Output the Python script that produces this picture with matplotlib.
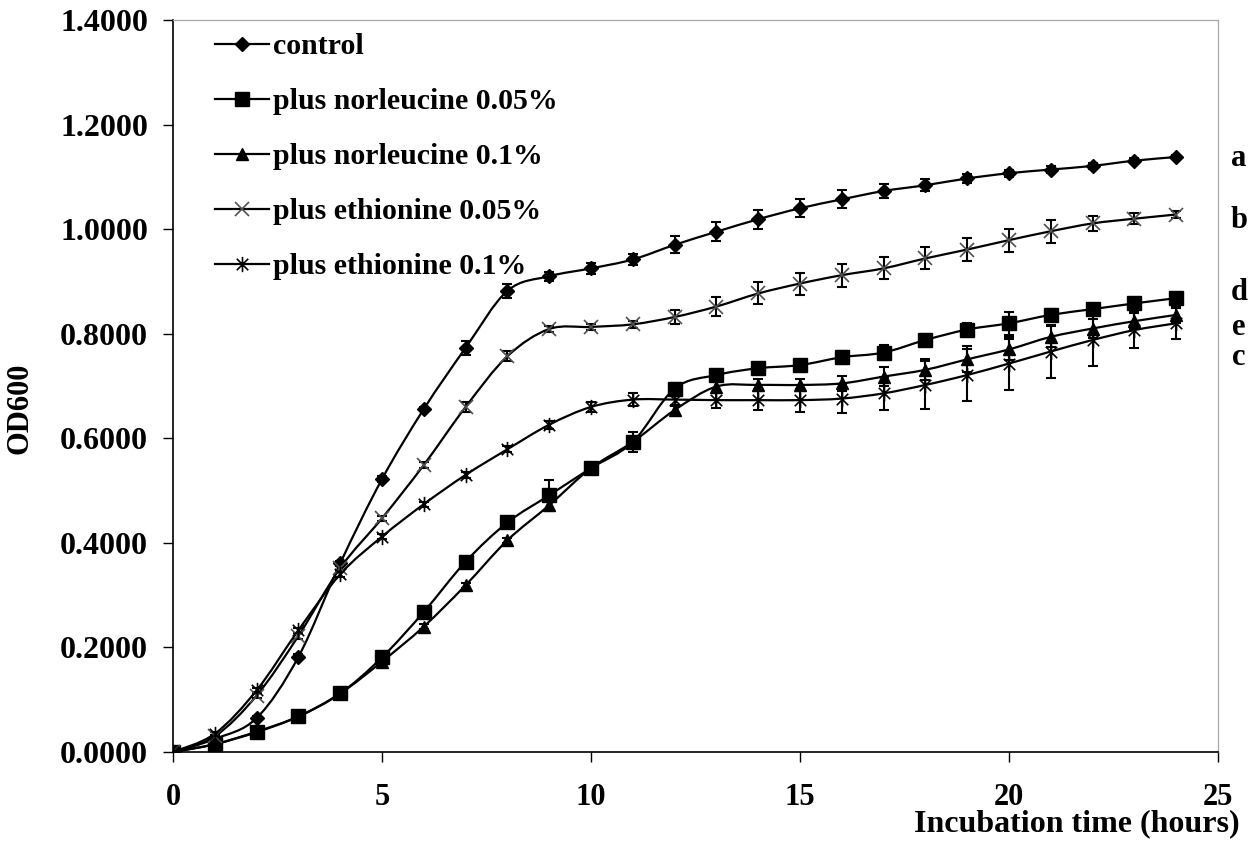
import matplotlib
matplotlib.use("Agg")
import matplotlib.pyplot as plt
from matplotlib.path import Path
from matplotlib.patches import PathPatch
from matplotlib.lines import Line2D
from matplotlib.ticker import FormatStrFormatter

# incubation time (hours) and OD600 readings, mean and error
hours = list(range(25))

control = [0, 0.025, 0.065, 0.182, 0.361, 0.522, 0.656, 0.773, 0.882, 0.910,
           0.925, 0.942, 0.970, 0.995, 1.019, 1.040, 1.057, 1.073, 1.084, 1.097,
           1.107, 1.114, 1.121, 1.131, 1.138]
control_err = [0, 0.003, 0.004, 0.005, 0.005, 0.005, 0.004, 0.014, 0.013, 0.009,
               0.010, 0.010, 0.016, 0.018, 0.018, 0.017, 0.017, 0.014, 0.011, 0.009,
               0.007, 0.006, 0.005, 0.005, 0.004]

nor_005 = [0, 0.015, 0.039, 0.068, 0.112, 0.181, 0.268, 0.364, 0.439, 0.491,
           0.543, 0.593, 0.695, 0.721, 0.734, 0.740, 0.755, 0.764, 0.788, 0.808,
           0.820, 0.836, 0.847, 0.858, 0.868]
nor_005_err = [0, 0, 0, 0, 0.003, 0.004, 0.004, 0.005, 0.005, 0.030,
               0.010, 0.020, 0.010, 0.010, 0.010, 0.010, 0.012, 0.015, 0.012, 0.012,
               0.022, 0.012, 0.010, 0.008, 0.006]

nor_01 = [0, 0.015, 0.038, 0.068, 0.112, 0.173, 0.240, 0.319, 0.405, 0.472,
          0.543, 0.593, 0.654, 0.699, 0.702, 0.702, 0.705, 0.718, 0.731, 0.751,
          0.770, 0.794, 0.810, 0.824, 0.836]
nor_01_err = [0, 0, 0, 0, 0.003, 0.004, 0.004, 0.005, 0.005, 0.010,
              0.008, 0.010, 0.008, 0.010, 0.012, 0.012, 0.015, 0.018, 0.020, 0.025,
              0.020, 0.020, 0.018, 0.015, 0.015]

eth_005 = [0, 0.030, 0.108, 0.222, 0.352, 0.447, 0.549, 0.660, 0.757, 0.809,
           0.813, 0.818, 0.832, 0.852, 0.877, 0.896, 0.912, 0.925, 0.944, 0.961,
           0.979, 0.996, 1.011, 1.020, 1.028]
eth_005_err = [0, 0.003, 0.004, 0.005, 0.005, 0.005, 0.005, 0.010, 0.010, 0.006,
               0.006, 0.007, 0.013, 0.019, 0.021, 0.021, 0.022, 0.021, 0.021, 0.022,
               0.022, 0.022, 0.015, 0.010, 0.006]

eth_01 = [0, 0.035, 0.118, 0.233, 0.340, 0.412, 0.474, 0.530, 0.579, 0.626,
          0.660, 0.674, 0.674, 0.673, 0.673, 0.673, 0.676, 0.686, 0.702, 0.721,
          0.743, 0.766, 0.788, 0.807, 0.820]
eth_01_err = [0, 0.003, 0.004, 0.005, 0.005, 0.005, 0.005, 0.006, 0.006, 0.008,
              0.010, 0.012, 0.010, 0.015, 0.019, 0.022, 0.027, 0.032, 0.045, 0.050,
              0.050, 0.050, 0.050, 0.035, 0.030]

labels = ["control", "plus norleucine 0.05%", "plus norleucine 0.1%",
          "plus ethionine 0.05%", "plus ethionine 0.1%"]

# significance letters next to the last points
letters = ["a", "b", "d", "e", "c"]
letter_y = [1.136, 1.016, 0.878, 0.811, 0.755]

# asterisk marker: an x with a vertical bar through it
star = Path([(0, -1), (0, 1), (-0.75, -0.75), (0.75, 0.75), (-0.75, 0.75), (0.75, -0.75)],
            [Path.MOVETO, Path.LINETO, Path.MOVETO, Path.LINETO, Path.MOVETO, Path.LINETO])

styles = [
    dict(marker="D", ms=7.5, mfc="black", mec="black", mew=1),
    dict(marker="s", ms=10.5, mfc="black", mec="black", mew=1),
    dict(marker="^", ms=9, mfc="black", mec="black", mew=1),
    dict(marker="x", ms=10, mfc="none", mec="#505050", mew=1.2),
    dict(marker=star, ms=11, mfc="none", mec="black", mew=1.2),
]


def smooth_path(x, y):
    # bezier segments through every point, like a spreadsheet "smoothed line"
    n = len(x)
    verts = [(x[0], y[0])]
    codes = [Path.MOVETO]
    for i in range(n - 1):
        xa, ya = (x[i - 1], y[i - 1]) if i > 0 else (x[i], y[i])
        xb, yb = (x[i + 2], y[i + 2]) if i + 2 < n else (x[i + 1], y[i + 1])
        c1 = (x[i] + (x[i + 1] - xa) / 6.0, y[i] + (y[i + 1] - ya) / 6.0)
        c2 = (x[i + 1] - (xb - x[i]) / 6.0, y[i + 1] - (yb - y[i]) / 6.0)
        verts += [c1, c2, (x[i + 1], y[i + 1])]
        codes += [Path.CURVE4] * 3
    return Path(verts, codes)


plt.rcParams["font.family"] = ["Liberation Serif", "DejaVu Serif"]
plt.rcParams["font.weight"] = "bold"

fig = plt.figure(figsize=(12.52, 8.41), dpi=100)
ax = fig.add_axes([0.1382, 0.1058, 0.8346, 0.8704])

series = [(control, control_err), (nor_005, nor_005_err), (nor_01, nor_01_err),
          (eth_005, eth_005_err), (eth_01, eth_01_err)]

handles = []
for (vals, errs), st, lab in zip(series, styles, labels):
    ax.add_patch(PathPatch(smooth_path(hours, vals), facecolor="none",
                           edgecolor="black", lw=1.6, zorder=2))
    ax.errorbar(hours, vals, yerr=errs, fmt="none", ecolor="black",
                elinewidth=1.5, capsize=3.6, capthick=1.5, zorder=3)
    ax.plot(hours, vals, linestyle="none", zorder=4, **st)
    handles.append(Line2D([], [], color="black", lw=1.6, **st))

for lt, ly in zip(letters, letter_y):
    ax.text(25.5, ly, lt, ha="center", va="center", fontsize=22,
            fontweight="bold", clip_on=False)

ax.set_xlim(0, 25)
ax.set_ylim(0, 1.4)
ax.set_xticks([0, 5, 10, 15, 20, 25])
ax.set_yticks([0, 0.2, 0.4, 0.6, 0.8, 1.0, 1.2, 1.4])
ax.yaxis.set_major_formatter(FormatStrFormatter("%.4f"))
ax.tick_params(axis="y", direction="out", length=7, width=1, pad=11, labelsize=23)
ax.tick_params(axis="x", direction="out", length=7, width=1, pad=15, labelsize=22)
for lab in ax.get_xticklabels() + ax.get_yticklabels():
    lab.set_fontweight("bold")

for side in ["left", "bottom"]:
    ax.spines[side].set_color("black")
    ax.spines[side].set_linewidth(1.2)
for side in ["top", "right"]:
    ax.spines[side].set_color("#a8a8a8")
    ax.spines[side].set_linewidth(0.9)

ax.set_ylabel("OD600", fontsize=22, fontweight="bold")
ax.yaxis.set_label_coords(-0.133, 0.47)
fig.text(1240 / 1252, 1 - 831 / 841, "Incubation time (hours)", ha="right",
         va="baseline", fontsize=23, fontweight="bold")

ax.legend(handles, labels, loc="upper left", bbox_to_anchor=(0.040, 0.982),
          frameon=False, borderaxespad=0, borderpad=0,
          handlelength=1.8, handletextpad=0.15, labelspacing=0.94, numpoints=1,
          prop={"weight": "bold", "size": 21.5})

fig.savefig("out.png", dpi=100)
